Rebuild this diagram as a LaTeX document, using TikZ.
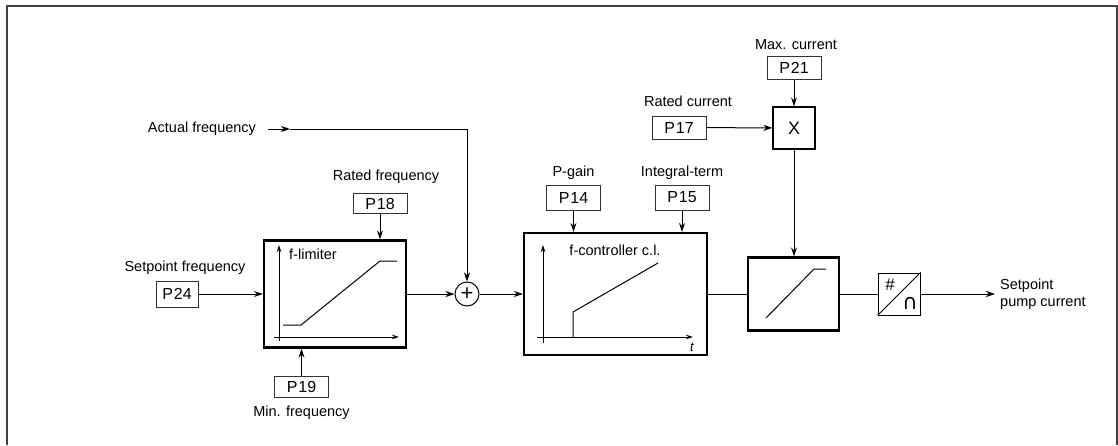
\documentclass[tikz,border=0pt]{standalone}
\usepackage{fontspec}
\setmainfont{Liberation Sans}
\newfontfamily\symfont{DejaVu Sans}
\usetikzlibrary{positioning,arrows.meta}
\tikzset{
  lbl/.style={inner sep=0pt, font=\fontsize{14.5}{17}\selectfont},
  param/.style={rectangle, draw=black!80, line width=1pt, inner sep=0pt,
    minimum width=54, minimum height=23, font=\fontsize{16}{18}\selectfont},
  bloque/.style={rectangle, draw, line width=2.2pt, inner sep=0pt},
  flecha/.style={-{Stealth[length=9pt,width=6pt]}, line width=1pt},
  eje/.style={-{Stealth[length=7pt,width=4.5pt]}, line width=1pt},
  linea/.style={line width=1pt},
}
\begin{document}
\begin{tikzpicture}[x=1pt,y=-1pt]
  \useasboundingbox (0,0) rectangle (1118,445);
  \draw[line width=1.5pt, black!75] (7,445) -- (7,6) -- (1117,6) -- (1117,445);

  % main chain
  \node[bloque, minimum width=142, minimum height=107] (flim) at (335,294) {};
  \node[circle, draw, line width=1pt, minimum size=24, inner sep=0pt,
    font=\fontsize{22}{22}\selectfont] (sum) at (467,294) {+};
  \node[bloque, minimum width=183, minimum height=122] (fctrl) at (615.5,294) {};
  \node[bloque, minimum width=91, minimum height=73] (ramp) at (793.5,294) {};
  \node[rectangle, draw, line width=1pt, minimum size=42, inner sep=0pt] (da) at (899,294) {};
  \node[rectangle, draw, line width=1.2pt, minimum size=42, inner sep=0pt,
    font=\fontsize{18}{18}\selectfont] (mult) at (794,128) {X};

  % parameters
  \node[param, minimum width=42, minimum height=26] (p24) at (177,294) {P\kern1pt24};
  \node[param, minimum height=20] (p18) at (380,203.5) {P\kern1pt18};
  \node[param, minimum height=21] (p19) at (301.5,386.5) {P\kern1pt19};
  \node[param, minimum height=25] (p14) at (573.5,197.5) {P\kern1pt14};
  \node[param, minimum height=25] (p15) at (682,197.5) {P\kern1pt15};
  \node[param] (p17) at (679,127.5) {P\kern1pt17};
  \node[param] (p21) at (794,67.5) {P\kern1pt21};

  % labels
  \node[lbl, above=6pt of p24, xshift=8pt] (lsetf) {Setpoint frequency};
  \node[lbl, above=9pt of p18, xshift=6pt] (lratf) {Rated frequency};
  \node[lbl, below=8pt of p19] (lminf) {Min. frequency};
  \node[lbl, above=5pt of p14] (lpgain) {P-gain};
  \node[lbl, above=5pt of p15] (lint) {Integral-term};
  \node[lbl, above=9pt of p17, xshift=9pt] (lratc) {Rated current};
  \node[lbl, above=6pt of p21, xshift=2pt] (lmaxc) {Max. current};
  \node[lbl] (lact) at (202,129) {Actual frequency};
  \node[lbl, align=left, anchor=west] (lout) at (1000,294) {Setpoint\\pump current};
  \coordinate[right=12pt of lact.east] (actin);
  \coordinate (actm) at (290,129);
  \coordinate (out) at (995,294);

  % connectors
  \draw[flecha] (p24) -- (flim);
  \draw[flecha] (p18) -- (flim.north -| p18);
  \draw[flecha] (p19) -- (flim.south -| p19);
  \draw[flecha] (flim) -- (sum);
  \draw[flecha] (actin) -- (actm);
  \draw[flecha] (actm) -| (sum);
  \draw[flecha] (sum) -- (fctrl);
  \draw[flecha] (p14) -- (fctrl.north -| p14);
  \draw[flecha] (p15) -- (fctrl.north -| p15);
  \draw[linea] (fctrl) -- (ramp);
  \draw[flecha] (p17) -- (mult);
  \draw[flecha] (p21) -- (mult);
  \draw[flecha] (mult) -- (ramp.north -| mult);
  \draw[linea] (ramp) -- (da);
  \draw[flecha] (da) -- (out);

  % f-limiter curve
  \draw[eje] (279,341) -- (279,245);
  \draw[eje] (274,337) -- (399,337);
  \draw[linea] (283,325) -- (301,325) -- (380,261) -- (397,261);
  \node[lbl, anchor=west] (tlim) at (289,254) {f-limiter};

  % controller curve
  \draw[eje] (543,343) -- (543,245);
  \draw[eje] (537,337) -- (693,337);
  \draw[linea] (573,337) -- (573,312) -- (658,263);
  \node[lbl] (tctrl) at (615,250) {f-controller c.l.};
  \node[lbl, font=\fontsize{13}{13}\itshape] (tt) at (692,347) {t};

  % ramp and converter
  \draw[linea] (766,318) -- (814,269) -- (826,269);
  \draw[linea] (da.south west) -- (da.north east);
  \node[lbl, font=\fontsize{17}{17}\selectfont] (hash) at (890,285) {\#};
  \node[lbl, font=\symfont\fontsize{21}{21}\selectfont] (cap) at (910,303) {∩};
\end{tikzpicture}
\end{document}
